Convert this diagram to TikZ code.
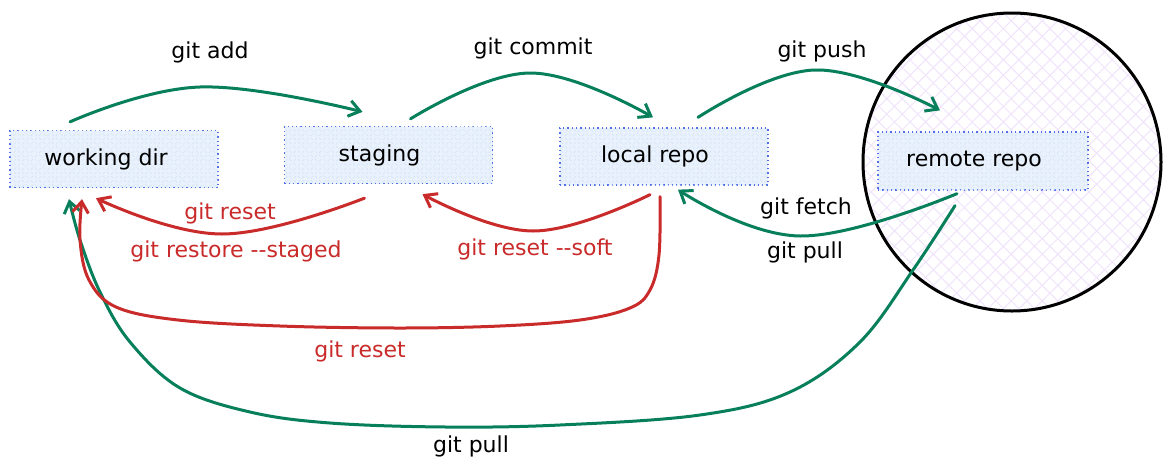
\documentclass[tikz,border=0pt]{standalone}
\usepackage{fontspec}
\setmainfont{DejaVu Sans}
\usetikzlibrary{arrows.meta,calc,patterns.meta}
\definecolor{gr}{HTML}{087F5B}
\definecolor{rd}{HTML}{C92A2A}
\definecolor{boxfill}{RGB}{232,241,252}
\definecolor{boxhatch}{RGB}{208,224,246}
\definecolor{boxline}{RGB}{80,110,230}
\definecolor{circhatch}{RGB}{240,228,252}
\newcommand{\dd}{\mbox{-}\mbox{-}}
\begin{document}
\begin{tikzpicture}[x=1pt,y=-1pt,
  font=\fontsize{22}{26}\selectfont,
  box/.style={draw=boxline, dash pattern=on 1.3pt off 3pt, line width=1.3pt, fill=boxfill,
    minimum width=208pt, minimum height=57pt, inner sep=0pt,
    postaction={pattern={Lines[angle=45,distance=6pt,line width=0.5pt]}, pattern color=boxhatch},
    postaction={pattern={Lines[angle=-45,distance=6pt,line width=0.5pt]}, pattern color=boxhatch}},
  cloud/.style={circle, fill=white, minimum size=298pt, inner sep=0pt,
    postaction={pattern={Lines[angle=45,distance=11pt,line width=1pt]}, pattern color=circhatch},
    postaction={pattern={Lines[angle=-45,distance=11pt,line width=1pt]}, pattern color=circhatch},
    postaction={draw=black, line width=3pt}},
  garrow/.style={draw=gr, line width=3pt, line cap=round, line join=round,
    -{Straight Barb[length=11pt,width=16pt]}},
  rarrow/.style={draw=rd, line width=3pt, line cap=round, line join=round,
    -{Straight Barb[length=11pt,width=16pt]}},
  lbl/.style={text=black, inner sep=1pt},
  rlbl/.style={text=rd, inner sep=1pt}]
\useasboundingbox (0,0) rectangle (1173,472);

% remote circle
\node[cloud] (remote) at (1012,162) {};

% boxes
\node[box] (wd) at (114,159) {\hspace*{-16pt}working dir};
\node[box] (st) at (388.5,155) {\hspace*{-18pt}staging};
\node[box] (lr) at (664,156.5) {\hspace*{-18pt}local repo};
\node[box, minimum width=210pt, minimum height=58pt] (rr) at (983,161) {\hspace*{-18pt}remote repo};

% endpoints
\coordinate (addS) at ($(wd.north)+(-44,-8)$);
\coordinate (addE) at ($(st.north)+(-26,-14)$);
\coordinate (comS) at ($(st.north)+(22,-7)$);
\coordinate (comE) at ($(lr.north)+(-11,-10)$);
\coordinate (pushS) at ($(lr.north)+(34,-10)$);
\coordinate (pushE) at ($(rr.north)+(-43,-21)$);
\coordinate (fetS) at ($(rr.south)+(-26,3)$);
\coordinate (fetE) at ($(lr.south)+(14,4)$);
\coordinate (softS) at ($(lr.south)+(-14,9)$);
\coordinate (softE) at ($(st.south)+(34,10)$);
\coordinate (rstS) at ($(st.south)+(-24,14)$);
\coordinate (rstE) at ($(wd.south)+(-18,10)$);
\coordinate (bigS) at ($(lr.south)+(-4,11)$);
\coordinate (bigE) at ($(wd.south)+(-32,11)$);
\coordinate (pullS) at ($(rr.south)+(-28,15)$);
\coordinate (pullE) at ($(wd.south)+(-45,11)$);

% green arrows
\draw[garrow] plot[smooth, tension=0.7] coordinates {(addS) (200,87) (addE)};
\draw[garrow] plot[smooth, tension=0.7] coordinates {(comS) (530,73) (comE)};
\draw[garrow] plot[smooth, tension=0.7] coordinates {(pushS) (815,70) (pushE)};
\draw[garrow] plot[smooth, tension=0.7] coordinates {(fetS) (800,236) (fetE)};
\draw[garrow] plot[smooth, tension=0.6] coordinates {(pullS) (913,270) (860,342) (790,392) (700,415) (560,425) (446,427) (330,423) (250,412) (180,388) (130,342) (100,292) (80,240) (pullE)};

% red arrows
\draw[rarrow] plot[smooth, tension=0.7] coordinates {(softS) (533,231) (softE)};
\draw[rarrow] plot[smooth, tension=0.7] coordinates {(rstS) (222,234) (rstE)};
\draw[rarrow] plot[smooth, tension=0.6] coordinates {(bigS) (659,255) (650,290) (630,308) (580,320) (500,326) (400,328) (280,326) (178,320) (116,307) (89,280) (80,240) (bigE)};

% labels
\node[lbl] (tAdd) at (210,52) {git add};
\node[lbl] (tCommit) at (533,48) {git commit};
\node[lbl] (tPush) at (822,51) {git push};
\node[lbl] (tFetch) at (806,208) {git fetch};
\node[lbl] (tPull1) at (805,252) {git pull};
\node[rlbl] (tReset1) at (230,213) {git reset};
\node[rlbl] (tRestore) at (236,251) {git restore \dd staged};
\node[rlbl] (tSoft) at (535,249) {git reset \dd soft};
\node[rlbl] (tReset2) at (360,351) {git reset};
\node[lbl] (tPull2) at (471,446) {git pull};
\end{tikzpicture}
\end{document}
